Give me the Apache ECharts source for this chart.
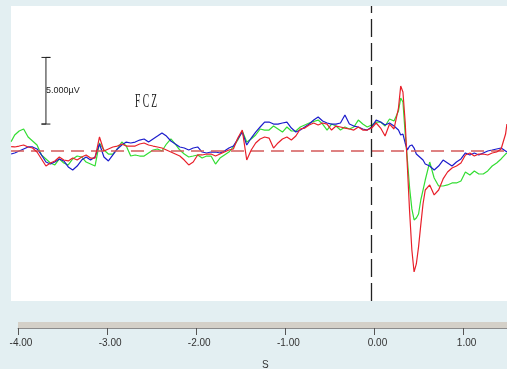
<!DOCTYPE html>
<html><head><meta charset="utf-8">
<script src="https://cdn.jsdelivr.net/npm/echarts@6/dist/echarts.min.js"></script>
<style>html,body{margin:0;padding:0;background:#e3eff2;}#c{width:507px;height:369px;}</style>
</head><body><div id="c"></div>
<script>
// time (s)
const times = [
-4.04,-4.00,-3.95,-3.90,-3.85,-3.80,-3.75,-3.70,-3.65,-3.60,
-3.55,-3.50,-3.45,-3.40,-3.35,-3.30,-3.25,-3.20,-3.15,-3.10,
-3.05,-3.00,-2.95,-2.90,-2.85,-2.80,-2.75,-2.70,-2.65,-2.60,
-2.55,-2.50,-2.45,-2.40,-2.35,-2.30,-2.25,-2.20,-2.15,-2.10,
-2.05,-2.00,-1.95,-1.90,-1.85,-1.80,-1.75,-1.70,-1.65,-1.60,
-1.55,-1.50,-1.45,-1.40,-1.35,-1.30,-1.25,-1.20,-1.15,-1.10,
-1.05,-1.00,-0.95,-0.90,-0.85,-0.80,-0.75,-0.70,-0.65,-0.60,
-0.55,-0.50,-0.45,-0.40,-0.35,-0.30,-0.25,-0.20,-0.15,-0.10,
-0.05,0.00,0.05,0.10,0.15,0.20,0.25,0.30,0.325,0.35,
0.375,0.40,0.425,0.45,0.475,0.50,0.525,0.55,0.575,0.60,
0.65,0.70,0.75,0.80,0.85,0.90,0.95,1.00,1.05,1.10,
1.15,1.20,1.25,1.30,1.35,1.40,1.45,1.50,1.515];
// µV
const green = [
0.68,1.18,1.48,1.63,1.03,0.73,0.43,-0.32,-0.62,-0.92,
-1.07,-0.62,-0.92,-1.07,-0.62,-0.40,-0.47,-0.85,-1.00,-1.15,
0.58,0.05,-0.25,-0.25,0.13,0.65,0.35,-0.40,-0.32,-0.40,
-0.40,-0.17,0.05,0.13,-0.02,0.50,0.88,0.50,0.05,-0.25,
-0.47,-0.40,-0.32,-0.55,-0.40,-0.40,-1.00,-0.55,-0.32,-0.10,
0.28,0.80,1.48,0.65,0.88,1.18,1.63,1.55,1.55,1.85,
1.63,1.40,1.78,1.48,1.48,1.78,1.93,2.08,2.19,2.30,
2.00,1.55,2.00,1.85,1.55,1.78,1.63,1.78,2.30,2.00,
1.78,1.93,2.15,2.15,1.85,2.38,2.23,2.98,3.95,3.65,
1.30,-0.70,-2.80,-4.37,-5.20,-5.05,-4.75,-3.70,-2.95,-2.20,
-0.85,-2.05,-2.65,-2.65,-2.57,-2.42,-2.42,-2.27,-1.60,-1.82,
-1.52,-1.75,-1.75,-1.52,-1.15,-0.92,-0.62,-0.25,-0.17];
const blue = [
-0.25,-0.17,-0.02,0.13,0.28,0.28,0.13,-0.32,-0.85,-1.00,
-0.85,-0.62,-0.77,-1.22,-1.45,-1.15,-0.70,-0.47,-0.70,-0.47,
0.50,-0.47,-0.77,-0.32,0.13,0.43,0.65,0.58,0.65,0.80,
0.88,0.65,0.88,1.10,1.33,1.10,0.73,0.50,0.28,0.20,
0.05,0.20,0.28,-0.10,-0.17,-0.10,-0.10,-0.17,-0.02,0.20,
0.35,0.88,1.40,0.43,0.95,1.40,1.78,2.15,2.15,2.00,
2.00,2.08,2.15,1.70,1.40,1.55,1.78,2.00,2.30,2.53,
2.23,2.08,2.00,2.00,2.08,2.68,2.00,1.85,1.78,1.63,
1.55,1.78,2.30,2.15,1.93,2.08,1.85,1.55,1.18,1.25,
0.58,0.05,0.35,0.43,0.20,-0.25,-0.40,-0.55,-0.70,-1.00,
-1.15,-1.45,-1.15,-0.70,-0.92,-1.15,-0.85,-0.62,-0.17,-0.32,
-0.17,-0.32,-0.17,-0.02,0.05,0.13,0.20,-0.02,-0.10];
const red = [
0.30,0.28,0.35,0.43,0.28,0.20,-0.10,-0.62,-1.15,-0.92,
-0.77,-0.47,-0.70,-0.77,-0.55,-0.70,-0.47,-0.32,-0.55,-0.55,
1.03,-0.02,0.13,0.28,0.35,0.50,0.35,0.35,0.35,0.50,
0.58,0.43,0.35,0.28,0.20,0.05,-0.10,-0.25,-0.40,-0.70,
-1.07,-0.85,-0.32,-0.32,-0.25,-0.25,-0.40,-0.25,-0.10,0.05,
0.13,0.95,1.55,-0.70,0.05,0.58,0.88,1.03,0.95,0.20,
0.58,0.88,1.03,0.80,1.10,1.63,1.70,1.93,2.08,1.93,
2.08,2.00,1.55,1.85,1.78,1.70,1.63,1.55,1.78,1.55,
1.55,1.70,2.08,1.70,1.10,2.00,1.63,3.20,4.85,4.40,
2.15,-1.22,-4.60,-7.45,-9.10,-8.50,-7.22,-5.57,-4.00,-2.95,
-2.57,-3.32,-2.95,-2.12,-1.60,-1.30,-1.15,-0.92,-0.32,-0.17,
-0.40,-0.25,-0.25,-0.32,-0.17,-0.10,0.13,1.25,2.00];
const tickValues = [-4, -3, -2, -1, 0, 1];
// calibration bar: 5 µV
const scaleBarT = [-3.70, -3.60, -3.65, -3.65, -3.70, -3.60];
const scaleBarV = [7, 7, 7, 2, 2, 2];
const channelName = 'F C Z';
const scaleText = '5.000µV';
const axisName = 'S';

const zip = (a, b) => a.map((t, i) => [t, b[i]]);
const chart = echarts.init(document.getElementById('c'), null, {renderer: 'canvas'});
const lineS = (name, vals, color, z) => ({
  name, type: 'line', xAxisIndex: 0, yAxisIndex: 0, data: zip(times, vals),
  showSymbol: false, symbol: 'none', z, lineStyle: {color, width: 1.2}, silent: true
});
chart.setOption({
  animation: false,
  backgroundColor: '#e3eff2',
  grid: [
    {left: 11, right: 0, top: 6, bottom: 68, show: true, backgroundColor: '#ffffff', borderWidth: 0},
    {left: 18, right: 0, top: 322, height: 6, show: true, backgroundColor: '#d4d0c8', borderWidth: 0}
  ],
  xAxis: [
    {type: 'value', gridIndex: 0, min: -4.0415, max: 1.516, show: false},
    {type: 'value', gridIndex: 1, min: -4, max: 1.487, position: 'bottom',
     axisLine: {show: true, lineStyle: {color: '#8c8c8c', width: 1}},
     axisTick: {show: true, length: 7, customValues: tickValues, lineStyle: {color: '#555'}},
     axisLabel: {customValues: tickValues, formatter: v => v.toFixed(2), color: '#333',
                 fontSize: 10, fontFamily: 'Liberation Sans, Arial, sans-serif', margin: 10, padding: [0, 0, 0, 6]},
     splitLine: {show: false}}
  ],
  yAxis: [
    {type: 'value', gridIndex: 0, min: -11.28, max: 10.86, show: false},
    {type: 'value', gridIndex: 1, min: 0, max: 1, show: false}
  ],
  series: [
    {type: 'line', xAxisIndex: 0, yAxisIndex: 0, data: zip(scaleBarT, scaleBarV), showSymbol: false,
     symbol: 'none', lineStyle: {color: '#222', width: 1}, silent: true, z: 2,
     markLine: {silent: true, symbol: ['none', 'none'], label: {show: false}, animation: false,
       data: [
         {yAxis: 0, lineStyle: {color: '#d45a5a', width: 1.5, type: [13, 7]}},
         {xAxis: 0, lineStyle: {color: '#222', width: 1.3, type: [18, 6]}}
       ]}},
    lineS('green', green, '#33dd33', 3),
    lineS('blue', blue, '#1c1ccc', 4),
    lineS('red', red, '#e8202a', 5)
  ],
  graphic: [
    {type: 'text', x: 46, y: 86, z: 10, style: {text: scaleText, font: '9px "Liberation Sans", Arial, sans-serif', fill: '#222', verticalAlign: 'top'}},
    {type: 'text', x: 135, y: 93, z: 10, scaleX: 0.5, style: {text: channelName, font: '19px "Liberation Serif", serif', fill: '#222', verticalAlign: 'top'}},
    {type: 'text', x: 262, y: 360, z: 10, style: {text: axisName, font: '10px "Liberation Sans", Arial, sans-serif', fill: '#333', verticalAlign: 'top'}}
  ]
});
</script></body></html>
